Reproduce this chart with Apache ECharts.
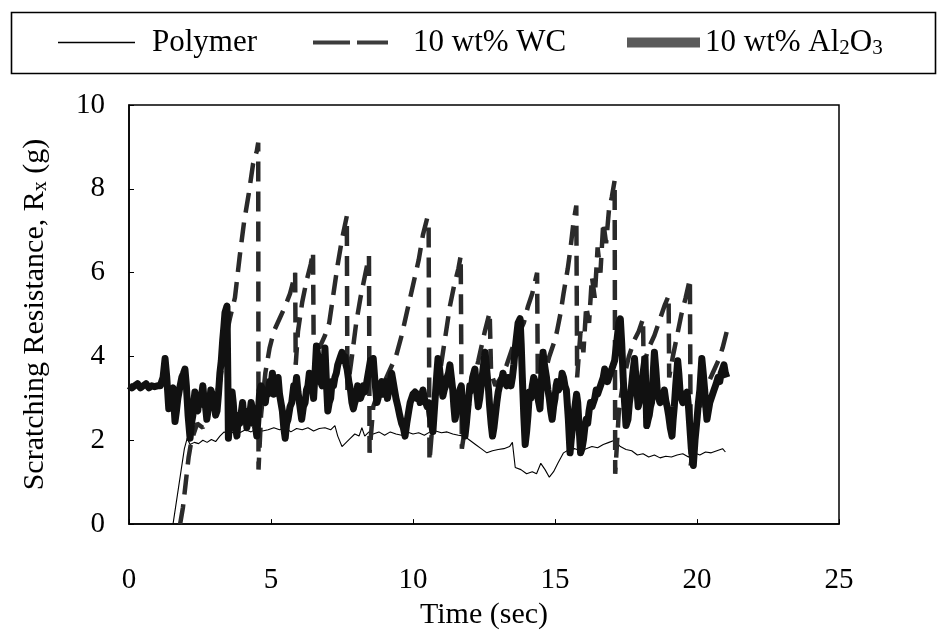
<!DOCTYPE html>
<html>
<head>
<meta charset="utf-8">
<script src="https://cdn.jsdelivr.net/npm/echarts@6/dist/echarts.min.js"></script>
<style>
  html, body { margin: 0; padding: 0; background: #fff; }
  #chart { width: 937px; height: 635px; }
</style>
</head>
<body>
<div id="chart"></div>
<script>
// ---- Data: [time (sec), R (g)] ----
var seriesNames = ['Polymer', '10 wt% WC', '10 wt% Al2O3'];

var polymerData = [
  [1.55,0],[1.75,0.9],[1.95,1.8],[2.05,2.05],[2.15,1.9],[2.3,1.95],[2.45,1.92],[2.6,2.0],[2.75,1.95],[2.9,2.02],
  [3.05,1.97],[3.2,2.1],[3.35,2.2],[3.5,2.15],[3.7,2.2],[3.9,2.18],[4.1,2.25],[4.3,2.2],[4.5,2.28],[4.7,2.22],
  [4.9,2.25],[5.1,2.3],[5.3,2.25],[5.5,2.3],[5.7,2.2],[5.9,2.28],[6.1,2.25],[6.3,2.3],[6.5,2.22],[6.7,2.28],
  [6.9,2.3],[7.1,2.25],[7.25,2.35],[7.35,2.1],[7.5,1.85],[7.65,1.95],[7.8,2.05],[7.95,2.15],[8.1,2.1],[8.2,2.3],
  [8.3,2.1],[8.45,2.2],[8.6,2.15],[8.8,2.2],[9.0,2.12],[9.2,2.2],[9.4,2.15],[9.6,2.12],[9.8,2.2],[10.0,2.15],
  [10.2,2.18],[10.4,2.12],[10.6,2.2],[10.8,2.22],[11.0,2.18],[11.2,2.2],[11.4,2.15],[11.6,2.12],[11.8,2.1],[12.0,2.0],
  [12.2,1.9],[12.4,1.8],[12.6,1.7],[12.8,1.75],[13.0,1.78],[13.2,1.8],[13.4,1.85],[13.5,1.95],[13.6,1.35],[13.8,1.3],
  [14.0,1.2],[14.2,1.25],[14.35,1.2],[14.5,1.45],[14.65,1.3],[14.8,1.12],[14.95,1.25],[15.1,1.45],[15.3,1.7],[15.5,1.78],
  [15.7,1.8],[15.9,1.75],[16.1,1.8],[16.3,1.85],[16.5,1.82],[16.7,1.9],[16.9,1.95],[17.1,2.0],[17.3,1.85],[17.5,1.78],
  [17.7,1.75],[17.9,1.65],[18.1,1.68],[18.3,1.6],[18.5,1.65],[18.7,1.58],[18.9,1.62],[19.1,1.6],[19.3,1.65],[19.5,1.68],
  [19.7,1.6],[19.9,1.7],[20.1,1.65],[20.3,1.72],[20.5,1.7],[20.7,1.75],[20.9,1.8],[21.0,1.72]
];

var wcData = [
  [1.8,0],[1.9,0.4],[2.0,1.0],[2.1,1.6],[2.2,2.0],[2.4,2.4],[2.6,2.3],[2.8,2.7],[3.0,2.9],[3.2,3.4],
  [3.4,4.4],[3.55,4.9],[3.73,5.4],[3.9,6.4],[4.05,7.2],[4.22,7.9],[4.37,8.6],[4.5,8.9],[4.55,9.1],[4.56,1.3],
  [4.65,2.6],[4.8,3.6],[4.95,4.2],[5.1,4.6],[5.3,4.9],[5.5,5.2],[5.67,5.5],[5.75,5.7],[5.85,6.0],[5.87,3.8],
  [5.95,4.6],[6.1,5.3],[6.25,5.8],[6.4,6.2],[6.48,6.5],[6.5,4.5],[6.7,4.2],[6.9,4.5],[7.05,4.8],[7.2,5.5],
  [7.35,6.2],[7.5,6.8],[7.67,7.35],[7.69,3.2],[7.85,4.0],[8.0,4.8],[8.15,5.4],[8.3,5.9],[8.45,6.4],[8.47,1.7],
  [8.6,2.8],[8.8,3.2],[9.0,3.4],[9.2,3.7],[9.4,4.0],[9.6,4.5],[9.8,5.1],[10.0,5.7],[10.2,6.3],[10.35,6.9],
  [10.5,7.3],[10.55,7.2],[10.58,1.5],[10.7,2.5],[10.9,3.4],[11.1,4.3],[11.3,5.2],[11.45,5.7],[11.6,6.1],[11.68,6.4],
  [11.72,1.8],[11.9,2.6],[12.1,3.3],[12.3,3.9],[12.53,4.6],[12.7,5.05],[12.75,3.6],[12.9,3.3],[13.1,3.5],[13.3,3.8],
  [13.5,4.2],[13.7,4.5],[13.9,4.8],[14.05,5.2],[14.2,5.5],[14.37,6.0],[14.4,2.9],[14.6,3.5],[14.8,4.0],[15.0,4.4],
  [15.07,4.6],[15.2,5.05],[15.3,5.5],[15.45,6.1],[15.55,6.6],[15.65,7.2],[15.75,7.6],[15.78,3.5],[15.9,4.6],[16.0,4.1],
  [16.1,5.2],[16.2,4.8],[16.3,5.9],[16.4,5.4],[16.5,6.6],[16.6,6.0],[16.7,7.2],[16.8,6.7],[16.9,7.5],[17.0,7.8],
  [17.1,8.2],[17.12,1.2],[17.25,2.7],[17.4,3.4],[17.6,4.0],[17.8,4.4],[17.95,4.6],[18.1,4.9],[18.12,3.8],[18.3,4.2],
  [18.5,4.5],[18.7,4.9],[18.85,5.2],[19.0,5.45],[19.02,3.5],[19.15,4.0],[19.3,4.5],[19.45,5.0],[19.6,5.4],[19.75,5.85],
  [19.78,1.4],[19.95,2.3],[20.15,2.9],[20.35,3.3],[20.55,3.6],[20.75,3.9],[20.9,4.2],[21.05,4.6]
];

var aluminaData = [
  [0,3.3],[0.1,3.25],[0.2,3.3],[0.3,3.35],[0.4,3.25],[0.5,3.3],[0.6,3.35],[0.7,3.25],[0.8,3.3],[0.9,3.28],
  [1.0,3.3],[1.1,3.3],[1.2,3.5],[1.27,3.95],[1.33,3.5],[1.4,2.75],[1.45,2.9],[1.5,3.2],[1.55,3.25],[1.58,2.9],
  [1.62,2.45],[1.67,2.7],[1.72,3.0],[1.8,3.3],[1.86,3.5],[1.92,3.6],[1.97,3.7],[2.02,3.3],[2.08,2.6],[2.15,2.05],
  [2.2,2.4],[2.25,2.6],[2.28,2.9],[2.32,3.15],[2.37,2.8],[2.42,2.7],[2.47,3.0],[2.52,2.85],[2.56,3.1],[2.6,3.3],
  [2.64,3.0],[2.68,2.9],[2.74,2.5],[2.78,2.7],[2.82,2.8],[2.88,3.2],[2.93,3.1],[2.97,2.8],[3.0,2.9],[3.05,2.6],
  [3.1,2.7],[3.15,3.1],[3.2,3.6],[3.25,3.9],[3.3,4.4],[3.34,4.7],[3.38,5.05],[3.45,5.2],[3.48,3.5],[3.5,2.05],
  [3.54,2.4],[3.57,2.6],[3.63,3.15],[3.67,2.9],[3.7,2.6],[3.75,2.3],[3.8,2.1],[3.85,2.6],[3.9,2.4],[3.97,2.75],
  [4.0,2.9],[4.05,2.5],[4.1,2.7],[4.15,2.3],[4.2,2.5],[4.25,2.6],[4.3,2.9],[4.33,2.8],[4.38,2.4],[4.42,2.5],
  [4.46,2.3],[4.5,2.1],[4.55,2.6],[4.6,3.15],[4.65,3.3],[4.7,3.2],[4.75,3.0],[4.8,2.9],[4.85,3.2],[4.9,3.1],
  [4.95,3.4],[5.0,3.3],[5.05,3.6],[5.1,3.1],[5.15,3.4],[5.2,3.2],[5.25,3.5],[5.3,3.1],[5.35,2.9],[5.4,2.7],
  [5.45,2.3],[5.5,2.05],[5.55,2.4],[5.6,2.5],[5.67,2.8],[5.73,2.9],[5.8,3.3],[5.85,3.2],[5.9,3.5],[5.95,3.15],
  [6.0,2.9],[6.08,2.5],[6.14,2.8],[6.2,2.9],[6.25,3.2],[6.3,3.3],[6.35,3.6],[6.4,3.2],[6.45,3.4],[6.5,3.0],
  [6.55,3.6],[6.6,4.25],[6.65,4.0],[6.7,3.8],[6.75,3.4],[6.8,3.3],[6.85,3.5],[6.9,4.2],[6.95,3.4],[7.0,2.7],
  [7.05,2.9],[7.1,3.0],[7.15,3.4],[7.2,3.3],[7.25,3.5],[7.3,3.6],[7.35,3.8],[7.4,3.9],[7.45,4.0],[7.5,4.1],
  [7.55,3.9],[7.6,4.0],[7.64,3.8],[7.68,3.7],[7.74,3.4],[7.8,3.2],[7.85,2.9],[7.9,2.75],[7.95,2.9],[8.0,3.0],
  [8.05,3.3],[8.1,3.2],[8.15,3.0],[8.2,3.1],[8.25,3.3],[8.3,3.15],[8.35,3.3],[8.4,3.5],[8.45,3.7],[8.5,3.9],
  [8.55,3.7],[8.6,3.95],[8.66,3.4],[8.73,2.9],[8.77,3.0],[8.8,3.1],[8.85,3.3],[8.9,3.4],[8.95,3.1],[9.0,3.2],
  [9.05,3.4],[9.1,3.0],[9.15,3.2],[9.2,3.4],[9.25,3.6],[9.3,3.4],[9.35,3.2],[9.4,3.0],[9.47,2.8],[9.53,2.6],
  [9.6,2.4],[9.66,2.3],[9.72,2.1],[9.78,2.4],[9.85,2.7],[9.9,2.9],[9.95,3.0],[10.0,3.1],[10.07,3.15],[10.13,3.0],
  [10.2,3.1],[10.25,2.9],[10.3,3.05],[10.35,3.2],[10.4,3.0],[10.45,2.9],[10.5,2.8],[10.55,2.9],[10.6,2.6],[10.65,2.4],
  [10.7,2.2],[10.75,2.7],[10.8,3.2],[10.84,3.6],[10.88,3.95],[10.92,3.8],[10.95,3.6],[11.0,3.3],[11.05,3.05],[11.1,3.2],
  [11.15,3.3],[11.2,3.5],[11.25,3.6],[11.3,3.8],[11.35,3.5],[11.4,3.2],[11.44,2.8],[11.48,2.5],[11.54,2.7],[11.6,2.9],
  [11.65,3.2],[11.7,3.3],[11.75,2.8],[11.79,2.4],[11.83,2.1],[11.88,2.4],[11.92,2.7],[11.96,3.0],[12.0,3.3],[12.05,3.2],
  [12.1,3.5],[12.14,3.6],[12.18,3.7],[12.24,3.2],[12.3,2.8],[12.35,3.0],[12.4,3.3],[12.45,3.6],[12.5,3.9],[12.54,4.1],
  [12.58,3.8],[12.62,3.5],[12.66,3.2],[12.7,2.8],[12.75,2.4],[12.8,2.1],[12.85,2.3],[12.9,2.6],[12.95,2.9],[13.0,3.15],
  [13.05,3.3],[13.1,3.4],[13.14,3.5],[13.17,3.6],[13.23,3.4],[13.3,3.3],[13.35,3.5],[13.4,3.4],[13.45,3.3],[13.5,3.5],
  [13.55,3.8],[13.6,4.2],[13.65,4.5],[13.7,4.8],[13.77,4.9],[13.81,4.3],[13.85,3.5],[13.9,2.6],[13.95,1.9],[14.0,2.2],
  [14.05,2.6],[14.1,3.15],[14.15,3.0],[14.2,3.3],[14.25,3.5],[14.3,3.4],[14.35,3.2],[14.4,3.0],[14.47,2.75],[14.52,3.4],
  [14.58,4.1],[14.63,3.8],[14.7,3.5],[14.75,3.2],[14.8,3.0],[14.85,2.7],[14.9,2.5],[14.95,2.8],[15.0,3.0],[15.04,3.3],
  [15.07,3.4],[15.12,3.2],[15.2,3.3],[15.25,3.6],[15.3,3.5],[15.35,3.3],[15.4,3.2],[15.44,2.8],[15.47,2.5],[15.53,1.7],
  [15.57,2.0],[15.6,2.2],[15.65,2.5],[15.72,2.9],[15.76,3.1],[15.8,2.9],[15.85,2.3],[15.9,1.7],[15.95,1.8],[16.0,2.0],
  [16.05,2.3],[16.1,2.5],[16.15,2.4],[16.2,2.7],[16.25,2.9],[16.3,2.8],[16.35,2.9],[16.4,3.0],[16.45,3.2],[16.5,3.1],
  [16.55,3.2],[16.6,3.3],[16.65,3.4],[16.7,3.5],[16.75,3.7],[16.8,3.6],[16.85,3.4],[16.9,3.5],[16.95,3.6],[17.0,3.7],
  [17.05,3.8],[17.1,3.9],[17.15,4.2],[17.2,4.5],[17.25,4.8],[17.3,4.9],[17.35,4.3],[17.4,3.5],[17.45,2.9],[17.5,2.35],
  [17.57,2.5],[17.62,2.9],[17.68,3.2],[17.74,3.6],[17.8,3.95],[17.86,3.4],[17.93,2.8],[18.0,3.0],[18.05,3.2],[18.1,3.6],
  [18.17,3.95],[18.2,3.2],[18.23,2.35],[18.28,2.5],[18.32,2.6],[18.36,2.8],[18.4,2.9],[18.45,3.5],[18.5,4.1],[18.55,3.7],
  [18.6,3.2],[18.65,3.0],[18.7,2.9],[18.75,3.1],[18.8,3.0],[18.85,3.2],[18.9,2.95],[18.95,2.8],[19.0,2.6],[19.06,2.3],
  [19.12,2.1],[19.16,2.5],[19.2,2.8],[19.25,3.3],[19.32,3.9],[19.36,3.6],[19.4,3.2],[19.45,3.0],[19.5,2.9],[19.55,3.1],
  [19.6,3.0],[19.65,3.15],[19.7,2.8],[19.75,2.3],[19.8,1.8],[19.87,1.4],[19.93,2.0],[20.0,2.5],[20.05,2.9],[20.1,3.2],
  [20.17,3.95],[20.22,3.6],[20.27,3.2],[20.31,2.8],[20.35,2.5],[20.4,2.7],[20.45,2.9],[20.5,3.0],[20.55,3.1],[20.6,3.2],
  [20.65,3.3],[20.7,3.4],[20.74,3.5],[20.8,3.4],[20.85,3.6],[20.9,3.7],[20.95,3.8],[21.0,3.6],[21.05,3.5]
];

var xTicks = { min: 0, max: 25, interval: 5 };
var yTicks = { min: 0, max: 10, interval: 2 };
var xAxisTitle = 'Time (sec)';
var yAxisTitle = 'Scratching Resistance, R{sub|x} (g)';

// ---- Chart ----
var FONT = '"Liberation Serif", "Times New Roman", serif';
var chart = echarts.init(document.getElementById('chart'), null, { renderer: 'canvas' });

function legendBlock(name, left, iconW, iconH, textPad, icon, color, formatter) {
  return {
    show: true,
    left: left,
    top: 27,
    padding: 0,
    itemWidth: iconW,
    itemHeight: iconH,
    icon: icon,
    symbolKeepAspect: false,
    itemStyle: { color: color, opacity: 1, borderWidth: 0 },
    data: [{ name: name, icon: icon, itemStyle: { color: color, opacity: 1, borderWidth: 0 } }],
    selectedMode: false,
    formatter: formatter,
    textStyle: {
      fontFamily: FONT, fontSize: 31, color: '#000',
      padding: [0, 0, 0, textPad],
      rich: {
        sub: { fontFamily: FONT, fontSize: 21, color: '#000', verticalAlign: 'bottom', padding: [12, 0, 0, 0] }
      }
    }
  };
}

var option = {
  animation: false,
  backgroundColor: '#fff',
  graphic: [{
    type: 'rect',
    shape: { x: 11.5, y: 12.5, width: 924, height: 61 },
    style: { fill: 'none', stroke: '#000', lineWidth: 1.6 },
    silent: true, z: 0
  }],
  legend: [
    legendBlock(seriesNames[0], 58, 77, 1.3, 12, 'rect', '#000'),
    legendBlock(seriesNames[1], 313, 75, 4, 20, 'path://M0,0h37v4h-37z M44,0h31v4h-31z', '#3c3c3c'),
    legendBlock(seriesNames[2], 627, 73, 10, 0, 'rect', '#5a5a5a',
      function () { return '10 wt% Al{sub|2}O{sub|3}'; })
  ],
  grid: {
    left: 129, right: 98, top: 105, bottom: 109,
    show: true, borderColor: '#000', borderWidth: 1.5, backgroundColor: 'transparent'
  },
  xAxis: {
    type: 'value', min: xTicks.min, max: xTicks.max, interval: xTicks.interval,
    name: xAxisTitle, nameLocation: 'middle', nameGap: 73,
    nameTextStyle: { fontFamily: FONT, fontSize: 30, color: '#000' },
    axisLine: { show: true, lineStyle: { color: '#000', width: 1.5 } },
    axisTick: { show: true, inside: true, length: 5, lineStyle: { color: '#000' } },
    axisLabel: { fontFamily: FONT, fontSize: 29, color: '#000', margin: 42 },
    splitLine: { show: false }
  },
  yAxis: {
    type: 'value', min: yTicks.min, max: yTicks.max, interval: yTicks.interval,
    name: yAxisTitle, nameLocation: 'middle', nameGap: 78, nameRotate: 90,
    nameTextStyle: {
      fontFamily: FONT, fontSize: 30, color: '#000',
      rich: { sub: { fontFamily: FONT, fontSize: 20, color: '#000', verticalAlign: 'bottom', padding: [12, 0, 0, 0] } }
    },
    axisLine: { show: true, lineStyle: { color: '#000', width: 1.5 } },
    axisTick: { show: true, inside: true, length: 5, lineStyle: { color: '#000' } },
    axisLabel: { fontFamily: FONT, fontSize: 29, color: '#000', margin: 24 },
    splitLine: { show: false }
  },
  series: [
    {
      name: seriesNames[0], type: 'line', data: polymerData, symbol: 'none', z: 2,
      lineStyle: { color: '#000', width: 1.1 }
    },
    {
      name: seriesNames[1], type: 'line', data: wcData, symbol: 'none', z: 3,
      lineStyle: { color: '#2a2a2a', width: 4.5, type: [20, 10] }
    },
    {
      name: seriesNames[2], type: 'line', data: aluminaData, symbol: 'none', z: 4,
      lineStyle: { color: '#111', width: 7, join: 'round' }
    }
  ]
};
chart.setOption(option);
</script>
</body>
</html>
